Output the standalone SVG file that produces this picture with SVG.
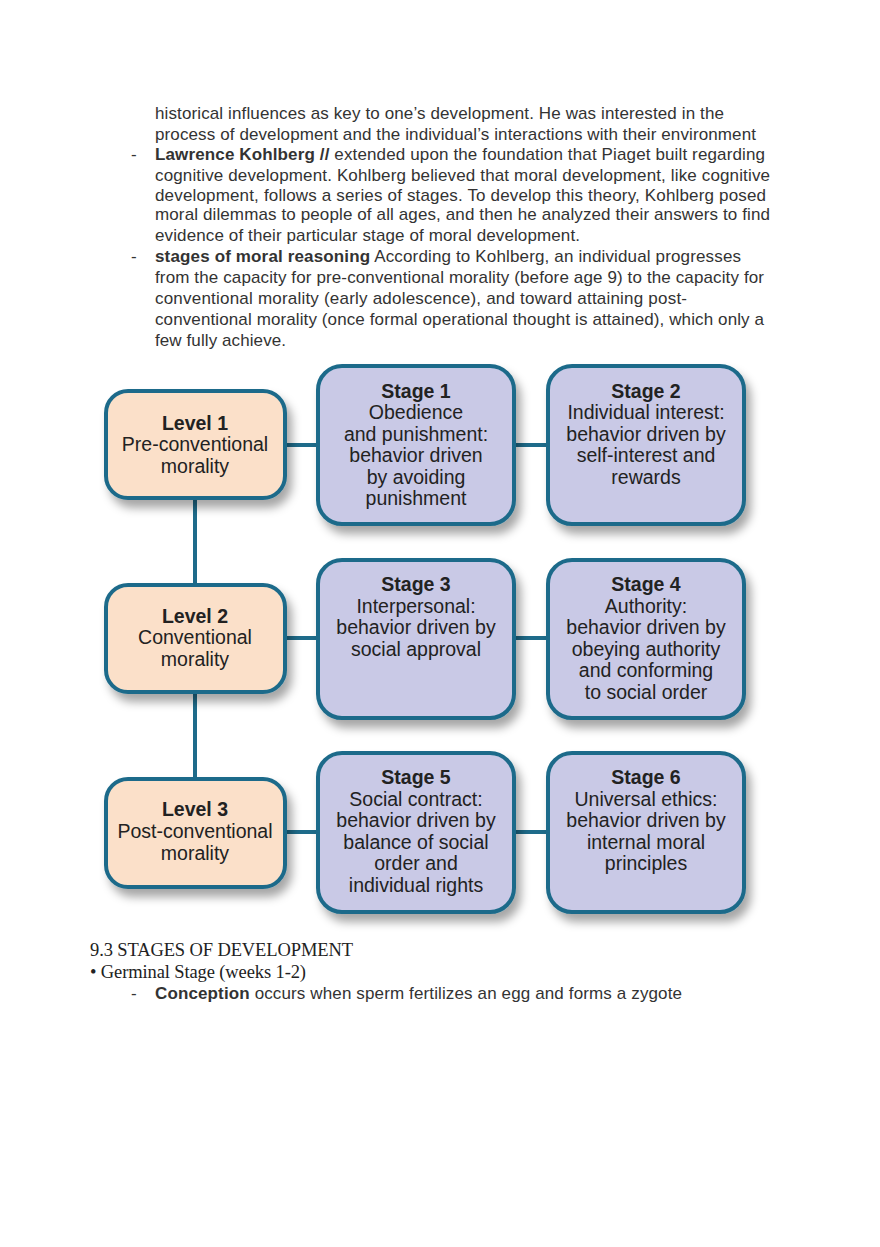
<svg xmlns="http://www.w3.org/2000/svg" width="880" height="1247" viewBox="0 0 880 1247">
<style>
.body{font-family:"Liberation Sans",Arial,sans-serif;font-size:17px;fill:#333}
.b{font-weight:bold}
.serif{font-family:"Liberation Serif","Times New Roman",serif;font-size:18.5px;fill:#222}
.lvl{fill:#fbe0c9;stroke:#1e6b8a;stroke-width:4;filter:url(#sh)}
.stg{fill:#c9c9e6;stroke:#1e6b8a;stroke-width:4;filter:url(#sh)}
.t{font-family:"Liberation Sans",Arial,sans-serif;font-size:19.5px;fill:#222;text-anchor:middle}
.th{font-weight:bold}
.conn line{stroke:#1e6b8a;stroke-width:4}
</style>
<defs>
<filter id="sh" x="-20%" y="-20%" width="150%" height="150%">
<feDropShadow dx="5" dy="8" stdDeviation="5" flood-color="#000" flood-opacity="0.35"/>
</filter>
</defs>
<rect width="880" height="1247" fill="#fff"/>
<g id="intro-text">
<text class="body" x="155" y="119" textLength="569">historical influences as key to one’s development. He was interested in the</text>
<text class="body" x="155" y="140" textLength="601">process of development and the individual’s interactions with their environment</text>
<text class="body" x="131" y="160">-</text>
<text class="body" x="155" y="160" textLength="610"><tspan class="b">Lawrence Kohlberg //</tspan> extended upon the foundation that Piaget built regarding</text>
<text class="body" x="155" y="181" textLength="615">cognitive development. Kohlberg believed that moral development, like cognitive</text>
<text class="body" x="155" y="201" textLength="611">development, follows a series of stages. To develop this theory, Kohlberg posed</text>
<text class="body" x="155" y="220" textLength="615">moral dilemmas to people of all ages, and then he analyzed their answers to find</text>
<text class="body" x="155" y="241" textLength="425">evidence of their particular stage of moral development.</text>
<text class="body" x="131" y="262">-</text>
<text class="body" x="155" y="262" textLength="586"><tspan class="b">stages of moral reasoning</tspan> According to Kohlberg, an individual progresses</text>
<text class="body" x="155" y="283" textLength="609">from the capacity for pre-conventional morality (before age 9) to the capacity for</text>
<text class="body" x="155" y="304" textLength="532">conventional morality (early adolescence), and toward attaining post-</text>
<text class="body" x="155" y="325" textLength="609">conventional morality (once formal operational thought is attained), which only a</text>
<text class="body" x="155" y="346" textLength="131">few fully achieve.</text>
</g>
<g class="conn" id="connectors">
<line x1="195" y1="496" x2="195" y2="587"/>
<line x1="195" y1="690" x2="195" y2="781"/>
<line x1="284" y1="445" x2="320" y2="445"/>
<line x1="512" y1="445" x2="550" y2="445"/>
<line x1="284" y1="638" x2="320" y2="638"/>
<line x1="512" y1="638" x2="550" y2="638"/>
<line x1="284" y1="832" x2="320" y2="832"/>
<line x1="512" y1="832" x2="550" y2="832"/>
</g>
<g id="level1">
<rect class="lvl" x="106" y="391" width="179" height="107" rx="22"/>
<text class="t th" x="195" y="430">Level 1</text>
<text class="t" x="195" y="451">Pre-conventional</text>
<text class="t" x="195" y="473">morality</text>
</g>
<g id="stage1">
<rect class="stg" x="318" y="366" width="196" height="158" rx="24"/>
<text class="t th" x="416" y="398">Stage 1</text>
<text class="t" x="416" y="419">Obedience</text>
<text class="t" x="416" y="441">and punishment:</text>
<text class="t" x="416" y="462">behavior driven</text>
<text class="t" x="416" y="484">by avoiding</text>
<text class="t" x="416" y="505">punishment</text>
</g>
<g id="stage2">
<rect class="stg" x="548" y="366" width="196" height="158" rx="24"/>
<text class="t th" x="646" y="398">Stage 2</text>
<text class="t" x="646" y="419">Individual interest:</text>
<text class="t" x="646" y="441">behavior driven by</text>
<text class="t" x="646" y="462">self-interest and</text>
<text class="t" x="646" y="484">rewards</text>
</g>
<g id="level2">
<rect class="lvl" x="106" y="585" width="179" height="107" rx="22"/>
<text class="t th" x="195" y="623">Level 2</text>
<text class="t" x="195" y="644">Conventional</text>
<text class="t" x="195" y="666">morality</text>
</g>
<g id="stage3">
<rect class="stg" x="318" y="560" width="196" height="158" rx="24"/>
<text class="t th" x="416" y="591">Stage 3</text>
<text class="t" x="416" y="613">Interpersonal:</text>
<text class="t" x="416" y="634">behavior driven by</text>
<text class="t" x="416" y="656">social approval</text>
</g>
<g id="stage4">
<rect class="stg" x="548" y="560" width="196" height="158" rx="24"/>
<text class="t th" x="646" y="591">Stage 4</text>
<text class="t" x="646" y="613">Authority:</text>
<text class="t" x="646" y="634">behavior driven by</text>
<text class="t" x="646" y="656">obeying authority</text>
<text class="t" x="646" y="677">and conforming</text>
<text class="t" x="646" y="699">to social order</text>
</g>
<g id="level3">
<rect class="lvl" x="106" y="779" width="179" height="108" rx="22"/>
<text class="t th" x="195" y="816">Level 3</text>
<text class="t" x="195" y="838">Post-conventional</text>
<text class="t" x="195" y="860">morality</text>
</g>
<g id="stage5">
<rect class="stg" x="318" y="753" width="196" height="159" rx="24"/>
<text class="t th" x="416" y="784">Stage 5</text>
<text class="t" x="416" y="806">Social contract:</text>
<text class="t" x="416" y="827">behavior driven by</text>
<text class="t" x="416" y="849">balance of social</text>
<text class="t" x="416" y="870">order and</text>
<text class="t" x="416" y="892">individual rights</text>
</g>
<g id="stage6">
<rect class="stg" x="548" y="753" width="196" height="159" rx="24"/>
<text class="t th" x="646" y="784">Stage 6</text>
<text class="t" x="646" y="806">Universal ethics:</text>
<text class="t" x="646" y="827">behavior driven by</text>
<text class="t" x="646" y="849">internal moral</text>
<text class="t" x="646" y="870">principles</text>
</g>
<g id="outro-text">
<text class="serif" x="90" y="956" textLength="263">9.3 STAGES OF DEVELOPMENT</text>
<text class="serif" x="90" y="978" textLength="216">• Germinal Stage (weeks 1-2)</text>
<text class="body" x="131" y="999">-</text>
<text class="body" x="155" y="999" textLength="527"><tspan class="b">Conception</tspan> occurs when sperm fertilizes an egg and forms a zygote</text>
</g>
</svg>
